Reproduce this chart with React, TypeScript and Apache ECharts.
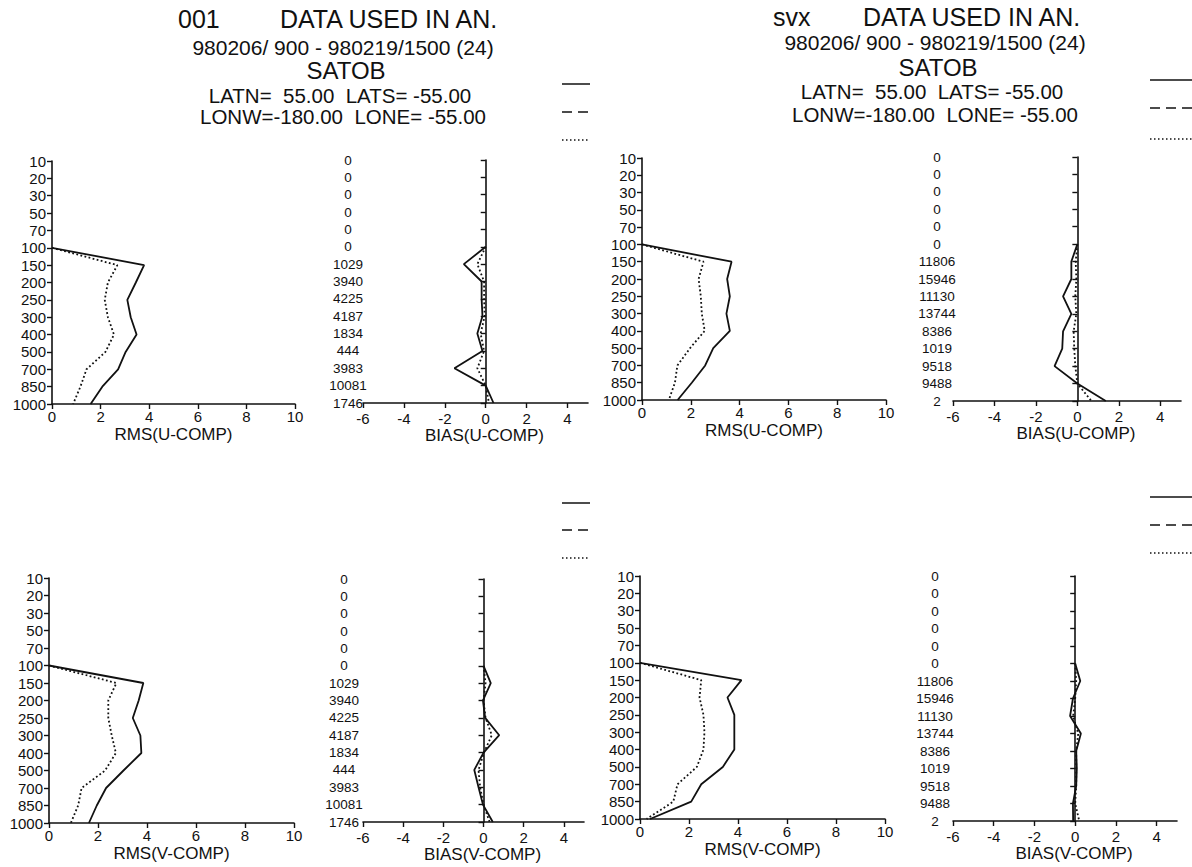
import React, { useEffect, useRef } from 'react';
import * as echarts from 'echarts';

// Pressure levels (hPa), top to bottom
const LEVELS = [10, 20, 30, 50, 70, 100, 150, 200, 250, 300, 400, 500, 700, 850, 1000];
// Observation counts per level
const COUNTS_001 = ['0', '0', '0', '0', '0', '0', '1029', '3940', '4225', '4187', '1834', '444', '3983', '10081', '1746'];
const COUNTS_SVX = ['0', '0', '0', '0', '0', '0', '11806', '15946', '11130', '13744', '8386', '1019', '9518', '9488', '2'];
// Data start at level index 5 (100 hPa) and run to 1000 hPa
const FIRST_LEVEL_INDEX = 5;

// 001 — U component
const RMS_U_001_SOLID = [0, 3.79, 3.45, 3.1, 3.24, 3.48, 3.03, 2.72, 2.07, 1.59];
const RMS_U_001_DOTTED = [0, 2.69, 2.3, 2.17, 2.3, 2.55, 2.2, 1.42, 1.17, 0.87];
const BIAS_U_001_SOLID = [0, -1.07, -0.2, -0.2, -0.16, -0.41, -0.16, -1.53, 0, 0.38];
const BIAS_U_001_DOTTED = [0, -0.41, -0.08, -0.08, -0.05, -0.25, -0.08, -0.41, 0, 0.16];
// svx — U component
const RMS_U_SVX_SOLID = [0, 3.67, 3.49, 3.6, 3.46, 3.6, 2.92, 2.59, 2.04, 1.46];
const RMS_U_SVX_DOTTED = [0, 2.52, 2.32, 2.41, 2.45, 2.57, 1.97, 1.45, 1.35, 1.1];
const BIAS_U_SVX_SOLID = [0, -0.29, -0.29, -0.69, -0.29, -0.69, -0.73, -1.1, 0, 1.37];
const BIAS_U_SVX_DOTTED = [0, -0.08, -0.05, -0.1, -0.05, -0.18, -0.15, -0.1, 0, 0.68];
// 001 — V component
const RMS_V_001_SOLID = [0, 3.85, 3.66, 3.42, 3.73, 3.77, 3.04, 2.33, 1.95, 1.63];
const RMS_V_001_DOTTED = [0, 2.75, 2.42, 2.42, 2.56, 2.73, 2.29, 1.33, 1.19, 0.89];
const BIAS_V_001_SOLID = [0, 0.36, -0.03, 0.08, 0.78, 0, -0.46, -0.25, -0.03, 0.46];
const BIAS_V_001_DOTTED = [0, 0.1, 0, 0.1, 0.41, 0.02, -0.25, -0.17, 0, 0.3];
// svx — V component
const RMS_V_SVX_SOLID = [0, 4.14, 3.57, 3.85, 3.85, 3.85, 3.38, 2.5, 2.09, 0.41];
const RMS_V_SVX_DOTTED = [0, 2.5, 2.43, 2.59, 2.63, 2.59, 2.32, 1.53, 1.36, 0.27];
const BIAS_V_SVX_SOLID = [0, 0.25, -0.11, -0.25, 0.28, 0.05, 0.08, 0.05, -0.11, -0.1];
const BIAS_V_SVX_DOTTED = [0, 0.05, 0, -0.1, 0.15, 0.05, 0.05, 0.05, 0, 0.2];

const RMS_X = { min: 0, max: 10, interval: 2 };
const BIAS_X = { min: -6, max: 5, interval: 2 };

const FONT = "'Liberation Sans', Arial, Helvetica, sans-serif";
const INK = '#111';

type Panel = {
  kind: 'rms' | 'bias';
  grid: { left: number; top: number; width: number; height: number };
  name: string;
  solid: number[];
  dotted: number[];
  counts?: string[];
  countMargin?: number;
};

const PANELS: Panel[] = [
  { kind: 'rms', grid: { left: 52, top: 161, width: 243, height: 243 }, name: 'RMS(U-COMP)', solid: RMS_U_001_SOLID, dotted: RMS_U_001_DOTTED },
  { kind: 'bias', grid: { left: 363, top: 160, width: 225, height: 243 }, name: 'BIAS(U-COMP)', solid: BIAS_U_001_SOLID, dotted: BIAS_U_001_DOTTED, counts: COUNTS_001, countMargin: 15 },
  { kind: 'rms', grid: { left: 642, top: 158, width: 244, height: 242 }, name: 'RMS(U-COMP)', solid: RMS_U_SVX_SOLID, dotted: RMS_U_SVX_DOTTED },
  { kind: 'bias', grid: { left: 953, top: 157, width: 228, height: 244 }, name: 'BIAS(U-COMP)', solid: BIAS_U_SVX_SOLID, dotted: BIAS_U_SVX_DOTTED, counts: COUNTS_SVX, countMargin: 16 },
  { kind: 'rms', grid: { left: 49, top: 578, width: 245, height: 245 }, name: 'RMS(V-COMP)', solid: RMS_V_001_SOLID, dotted: RMS_V_001_DOTTED },
  { kind: 'bias', grid: { left: 363, top: 579, width: 221, height: 243 }, name: 'BIAS(V-COMP)', solid: BIAS_V_001_SOLID, dotted: BIAS_V_001_DOTTED, counts: COUNTS_001, countMargin: 19 },
  { kind: 'rms', grid: { left: 640, top: 576, width: 245, height: 243 }, name: 'RMS(V-COMP)', solid: RMS_V_SVX_SOLID, dotted: RMS_V_SVX_DOTTED },
  { kind: 'bias', grid: { left: 953, top: 576, width: 224, height: 245 }, name: 'BIAS(V-COMP)', solid: BIAS_V_SVX_SOLID, dotted: BIAS_V_SVX_DOTTED, counts: COUNTS_SVX, countMargin: 18 },
];

const toPairs = (vals: number[]) => vals.map((v, i) => [v, i + FIRST_LEVEL_INDEX]);

function buildOption() {
  const grid: any[] = [];
  const xAxis: any[] = [];
  const yAxis: any[] = [];
  const series: any[] = [];

  const axisLine = { show: true, onZero: false, lineStyle: { color: INK, width: 1.6 } };
  const axisTick = { show: true, length: 5, lineStyle: { color: INK, width: 1.4 } };
  const label = { color: INK, fontFamily: FONT, fontSize: 15 };

  PANELS.forEach((p, gi) => {
    grid.push({ ...p.grid, containLabel: false });
    const range = p.kind === 'rms' ? RMS_X : BIAS_X;
    xAxis.push({
      gridIndex: gi,
      type: 'value',
      position: 'bottom',
      min: range.min,
      max: range.max,
      interval: range.interval,
      axisLine,
      axisTick,
      splitLine: { show: false },
      axisLabel: { ...label, margin: p.kind === 'bias' ? 8 : 5, showMaxLabel: p.kind === 'rms' },
      name: p.name,
      nameLocation: 'middle',
      nameGap: 22,
      nameTextStyle: {
        color: INK,
        fontFamily: FONT,
        fontSize: 17,
        padding: p.kind === 'bias' ? [0, 0, 0, 18] : 0,
      },
    });

    const tickAxisIndex = yAxis.length;
    yAxis.push({
      gridIndex: gi,
      type: 'value',
      position: 'left',
      min: 0,
      max: LEVELS.length - 1,
      interval: 1,
      inverse: true,
      axisLine: p.kind === 'bias' ? { ...axisLine, onZero: true } : axisLine,
      axisTick,
      splitLine: { show: false },
      axisLabel:
        p.kind === 'rms'
          ? { ...label, margin: 6, formatter: (v: number) => String(LEVELS[Math.round(v)]) }
          : { show: false },
    });

    if (p.kind === 'bias' && p.counts) {
      const counts = p.counts;
      yAxis.push({
        gridIndex: gi,
        type: 'value',
        position: 'left',
        min: 0,
        max: LEVELS.length - 1,
        interval: 1,
        inverse: true,
        axisLine: { show: false, onZero: false },
        axisTick: { show: false },
        splitLine: { show: false },
        axisLabel: {
          ...label,
          fontSize: 13.5,
          align: 'center',
          margin: p.countMargin,
          formatter: (v: number) => counts[Math.round(v)],
        },
      });
    }

    series.push({
      type: 'line',
      xAxisIndex: gi,
      yAxisIndex: tickAxisIndex,
      data: toPairs(p.solid),
      symbol: 'none',
      silent: true,
      lineStyle: { color: INK, width: 1.8, type: 'solid' },
    });
    series.push({
      type: 'line',
      xAxisIndex: gi,
      yAxisIndex: tickAxisIndex,
      data: toPairs(p.dotted),
      symbol: 'none',
      silent: true,
      lineStyle: { color: INK, width: 1.8, type: [1.8, 2.4] },
    });
  });

  const txt = (text: string, x: number, y: number, fontSize: number, align = 'center') => ({
    type: 'text',
    x,
    y,
    silent: true,
    style: { text, fill: INK, fontFamily: FONT, fontSize, align, verticalAlign: 'middle' },
  });

  const legend = (x1: number, x2: number, ys: number[]) => [
    { type: 'line', silent: true, shape: { x1, y1: ys[0], x2, y2: ys[0] }, style: { stroke: INK, lineWidth: 1.5 } },
    { type: 'line', silent: true, shape: { x1, y1: ys[1], x2, y2: ys[1] }, style: { stroke: INK, lineWidth: 1.5, lineDash: [10, 6] } },
    { type: 'line', silent: true, shape: { x1, y1: ys[2], x2, y2: ys[2] }, style: { stroke: INK, lineWidth: 1.5, lineDash: [1.5, 2.5] } },
  ];

  const graphic: any[] = [
    txt('001', 178, 19, 25, 'left'),
    txt('DATA USED IN AN.', 280, 19, 25, 'left'),
    txt('980206/ 900 - 980219/1500 (24)', 343, 47, 21),
    txt('SATOB', 346, 70, 24),
    txt('LATN=  55.00  LATS= -55.00', 340, 95.5, 20.5),
    txt('LONW=-180.00  LONE= -55.00', 343, 116.5, 20.5),

    txt('svx', 773, 17, 25, 'left'),
    txt('DATA USED IN AN.', 863, 17, 25, 'left'),
    txt('980206/ 900 - 980219/1500 (24)', 935, 42, 21),
    txt('SATOB', 938, 67.5, 24),
    txt('LATN=  55.00  LATS= -55.00', 932, 91.5, 20.5),
    txt('LONW=-180.00  LONE= -55.00', 935, 114, 20.5),

    ...legend(562, 590, [84, 112, 140]),
    ...legend(1150, 1192, [80, 108, 139]),
    ...legend(562, 590, [503, 530, 558]),
    ...legend(1150, 1192, [497, 525, 553]),
  ];

  return {
    animation: false,
    backgroundColor: '#ffffff',
    textStyle: { fontFamily: FONT, color: INK },
    grid,
    xAxis,
    yAxis,
    series,
    graphic,
  };
}

export default function App() {
  const ref = useRef<HTMLDivElement>(null);
  useEffect(() => {
    if (!ref.current) return;
    const chart = echarts.init(ref.current, undefined, { renderer: 'svg' });
    chart.setOption(buildOption() as any);
    return () => chart.dispose();
  }, []);
  return (
    <div
      ref={ref}
      style={{ position: 'absolute', left: 0, top: 0, width: 1192, height: 867, background: '#fff' }}
    />
  );
}
